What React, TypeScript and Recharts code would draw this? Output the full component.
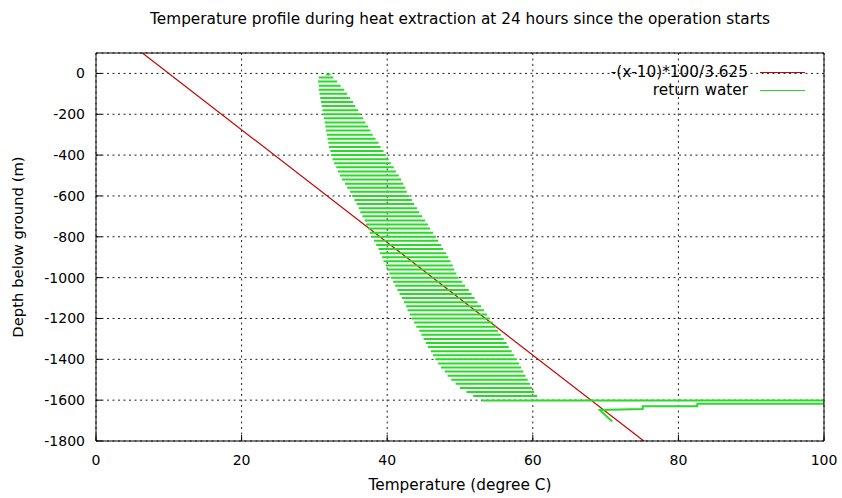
import React from 'react';
import { LineChart, Line, XAxis, YAxis, CartesianGrid } from 'recharts';

const FONT = '"DejaVu Sans", Verdana, sans-serif';
const RED = '#c80000';
const GREEN = '#26dc26';

const TITLE = 'Temperature profile during heat extraction at 24 hours since the operation starts';
const X_LABEL = 'Temperature (degree C)';
const Y_LABEL = 'Depth below ground (m)';
const LEGEND_RED = '-(x-10)*100/3.625';
const LEGEND_GREEN = 'return water';

const xTicks = [0, 20, 40, 60, 80, 100];
const yTicks = [-1800, -1600, -1400, -1200, -1000, -800, -600, -400, -200, 0];

// red reference curve -(x-10)*100/3.625 clipped to the plot
const redTemp = [6.375, 75.25];
const redDepth = [100, -1800];

// return water: horizontal strokes between left and right temperature
const strokeDepth = [
  -5, -20, -40, -60, -80, -100, -120, -140, -160, -180,
  -200, -220, -240, -260, -280, -300, -320, -340, -360, -380,
  -400, -420, -440, -460, -480, -500, -520, -540, -560, -580,
  -600, -620, -640, -660, -680, -700, -720, -740, -760, -780,
  -800, -820, -840, -860, -880, -900, -920, -940, -960, -980,
  -1000, -1020, -1040, -1060, -1080, -1100, -1120, -1140, -1160, -1180,
  -1200, -1220, -1240, -1260, -1280, -1300, -1320, -1340, -1360, -1380,
  -1400, -1420, -1440, -1460, -1480, -1500, -1520, -1540, -1560, -1580,
];
const strokeLeft = [
  31.6, 30.6, 30.5, 30.6, 30.6, 30.7, 30.8, 30.9, 31.0, 31.1,
  31.2, 31.3, 31.4, 31.5, 31.6, 31.7, 31.8, 31.9, 32.0, 32.2,
  32.3, 32.5, 32.7, 33.0, 33.2, 33.5, 33.8, 34.2, 34.5, 34.9,
  35.2, 35.5, 35.8, 36.1, 36.3, 36.6, 36.9, 37.1, 37.4, 37.6,
  37.9, 38.2, 38.5, 38.8, 39.0, 39.3, 39.5, 39.8, 40.0, 40.3,
  40.5, 40.8, 41.1, 41.4, 41.7, 42.0, 42.3, 42.6, 42.8, 43.1,
  43.4, 43.7, 44.0, 44.4, 44.7, 45.0, 45.3, 45.6, 46.0, 46.3,
  46.6, 47.0, 47.4, 47.9, 48.3, 48.8, 49.4, 50.0, 50.9, 51.8,
];
const strokeRight = [
  32.2, 32.6, 33.1, 33.6, 34.1, 34.5, 34.9, 35.3, 35.6, 36.0,
  36.3, 36.7, 37.0, 37.4, 37.7, 38.0, 38.4, 38.8, 39.1, 39.5,
  39.8, 40.2, 40.5, 40.9, 41.2, 41.6, 41.9, 42.2, 42.5, 42.7,
  43.0, 43.4, 43.7, 44.1, 44.4, 44.8, 45.2, 45.6, 45.9, 46.3,
  46.7, 47.0, 47.4, 47.7, 48.1, 48.4, 48.7, 49.0, 49.2, 49.5,
  49.8, 50.3, 50.7, 51.2, 51.6, 52.0, 52.4, 52.9, 53.3, 53.7,
  54.1, 54.5, 54.9, 55.2, 55.6, 56.0, 56.4, 56.7, 57.1, 57.4,
  57.8, 58.1, 58.4, 58.7, 59.0, 59.3, 59.6, 59.9, 60.2, 60.6,
];
// bottom run of the return water curve
const tailTemp = [53.0, 100, 100, 82.6, 82.6, 75.1, 75.1, 69.2, 70.9];
const tailDepth = [-1602, -1602, -1618, -1618, -1630, -1630, -1643, -1648, -1705];

const redData = redTemp.map((t, i) => ({ x: t, y: redDepth[i] }));

const greenData: { x: number | null; y: number | null }[] = [];
strokeDepth.forEach((d, i) => {
  greenData.push({ x: strokeLeft[i], y: d }, { x: strokeRight[i], y: d }, { x: null, y: null });
});
tailTemp.forEach((t, i) => greenData.push({ x: t, y: tailDepth[i] }));

const tickStyle = { fill: '#000', fontSize: 14, fontFamily: FONT };

export default function App() {
  return (
    <div style={{ position: 'relative', width: 842, height: 498, background: '#fff' }}>
      <style>{`body{margin:0;background:#fff}`}</style>
      <div
        style={{
          position: 'absolute', left: 60, top: 10, width: 800, height: 19,
          lineHeight: '19px', textAlign: 'center', fontFamily: FONT, fontSize: 15.3, color: '#000',
          whiteSpace: 'nowrap',
        }}
      >
        {TITLE}
      </div>
      <LineChart width={842} height={498} margin={{ top: 52, right: 17, left: 0, bottom: 0 }}>
        <CartesianGrid stroke="#222" strokeDasharray="2 3.5" />
        <XAxis
          type="number" dataKey="x" domain={[0, 100]} ticks={xTicks} allowDataOverflow
          height={57} tickSize={-6} tickMargin={20} stroke="#000"
          axisLine={{ stroke: '#000' }} tickLine={{ stroke: '#000' }} tick={tickStyle}
          label={{ value: X_LABEL, position: 'insideBottom', offset: 8, fill: '#000', fontSize: 15.3, fontFamily: FONT }}
        />
        <XAxis
          xAxisId="top" orientation="top" type="number" dataKey="x" domain={[0, 100]} ticks={xTicks}
          allowDataOverflow height={1} tickSize={-6} tick={false}
          axisLine={{ stroke: '#000' }} tickLine={{ stroke: '#000' }}
        />
        <YAxis
          type="number" dataKey="y" domain={[-1800, 100]} ticks={yTicks} allowDataOverflow
          width={96} tickSize={-6} tickMargin={17} stroke="#000"
          axisLine={{ stroke: '#000' }} tickLine={{ stroke: '#000' }} tick={tickStyle}
          label={{ value: Y_LABEL, angle: -90, position: 'insideLeft', offset: 18, fill: '#000', fontSize: 14.8, fontFamily: FONT, style: { textAnchor: 'middle' } }}
        />
        <YAxis
          yAxisId="right" orientation="right" type="number" dataKey="y" domain={[-1800, 100]} ticks={yTicks}
          allowDataOverflow width={1} tickSize={-6} tick={false}
          axisLine={{ stroke: '#000' }} tickLine={{ stroke: '#000' }}
        />
        <Line
          data={redData} dataKey="y" type="linear" stroke={RED} strokeWidth={1.2}
          dot={false} activeDot={false} isAnimationActive={false}
        />
        <Line
          data={greenData} dataKey="y" type="linear" stroke={GREEN} strokeWidth={2}
          connectNulls={false} dot={false} activeDot={false} isAnimationActive={false}
        />
      </LineChart>
      <div
        style={{
          position: 'absolute', left: 500, top: 63, width: 324, fontFamily: FONT, fontSize: 15.3, color: '#000',
        }}
      >
        {[{ label: LEGEND_RED, color: RED }, { label: LEGEND_GREEN, color: GREEN }].map((r) => (
          <div key={r.label} style={{ display: 'flex', justifyContent: 'flex-end', alignItems: 'center', height: 18 }}>
            <span style={{ whiteSpace: 'nowrap' }}>{r.label}</span>
            <span
              style={{
                display: 'inline-block', flex: '0 0 45px', width: 45, height: 0, borderTop: `1.5px solid ${r.color}`,
                marginLeft: 12, marginRight: 19,
              }}
            />
          </div>
        ))}
      </div>
    </div>
  );
}
